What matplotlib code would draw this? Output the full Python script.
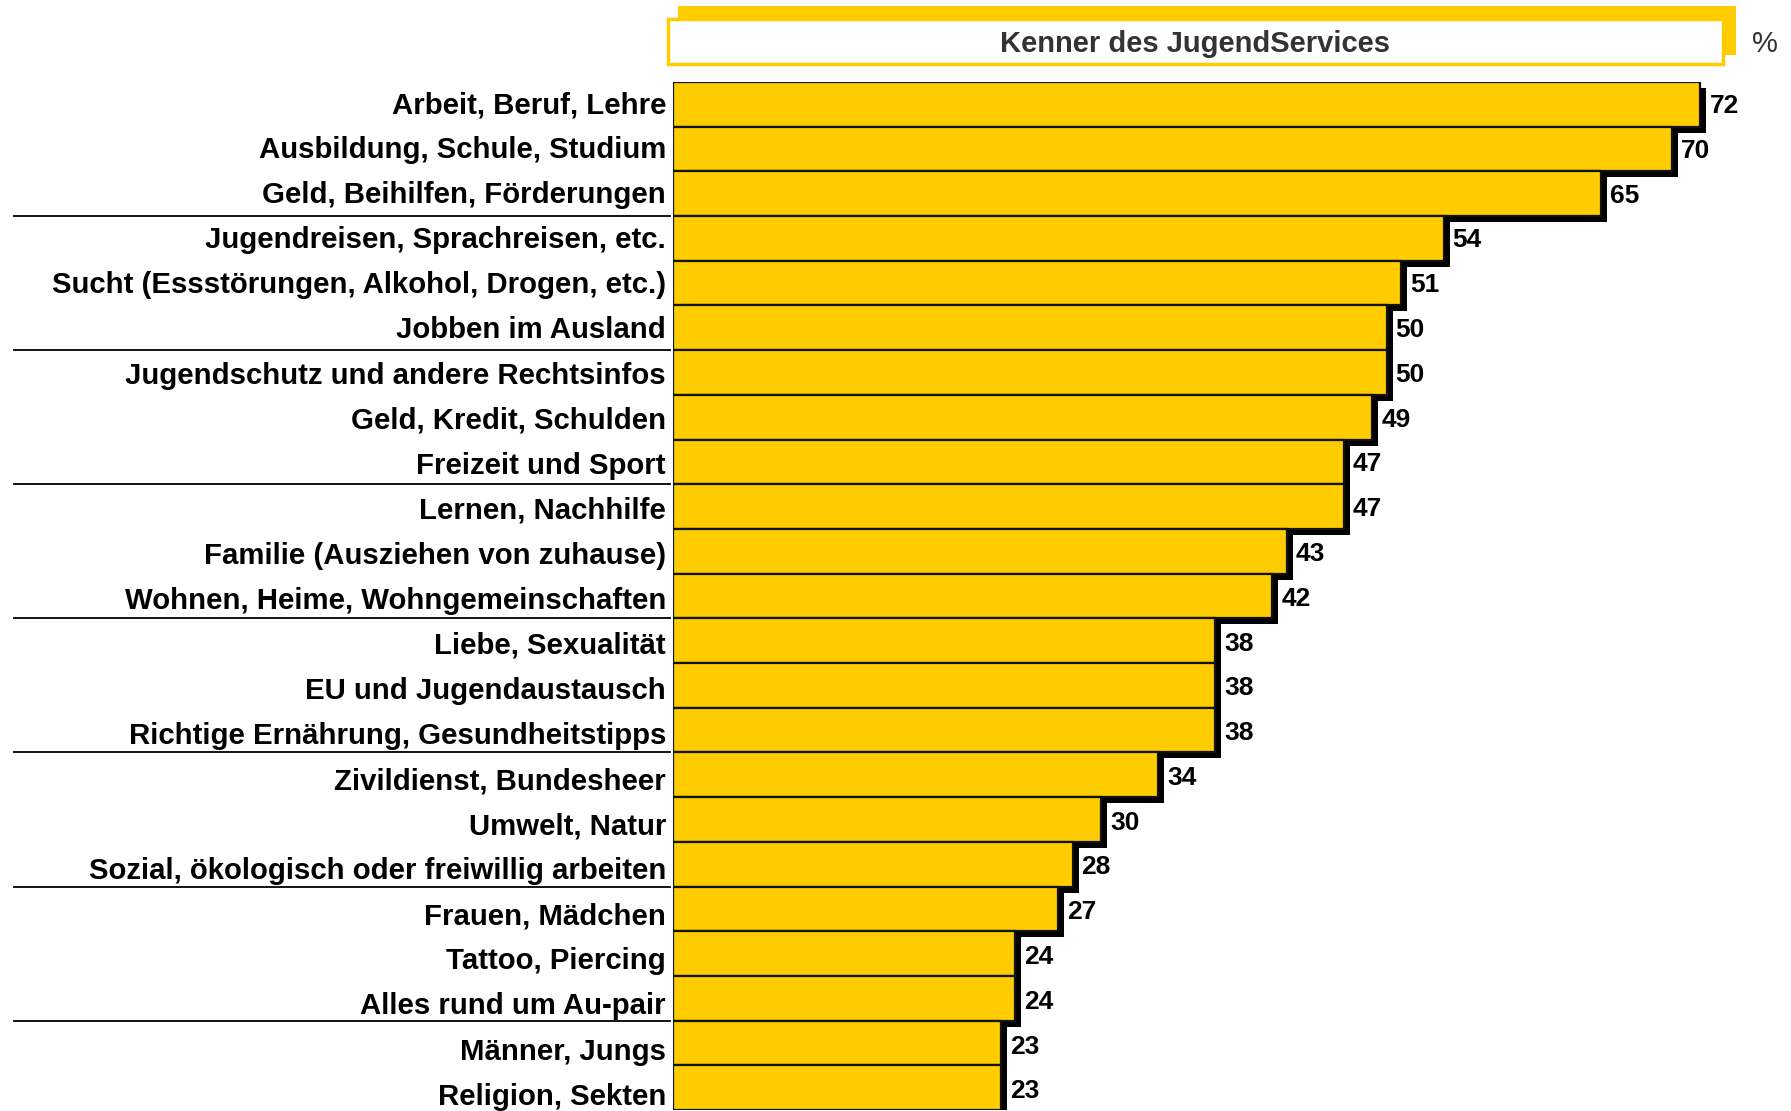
import matplotlib.pyplot as plt
from matplotlib.patches import Rectangle
from matplotlib.transforms import blended_transform_factory

plt.rcParams['font.family'] = ['Liberation Sans', 'DejaVu Sans']

topics = [
    "Arbeit, Beruf, Lehre",
    "Ausbildung, Schule, Studium",
    "Geld, Beihilfen, Förderungen",
    "Jugendreisen, Sprachreisen, etc.",
    "Sucht (Essstörungen, Alkohol, Drogen, etc.)",
    "Jobben im Ausland",
    "Jugendschutz und andere Rechtsinfos",
    "Geld, Kredit, Schulden",
    "Freizeit und Sport",
    "Lernen, Nachhilfe",
    "Familie (Ausziehen von zuhause)",
    "Wohnen, Heime, Wohngemeinschaften",
    "Liebe, Sexualität",
    "EU und Jugendaustausch",
    "Richtige Ernährung, Gesundheitstipps",
    "Zivildienst, Bundesheer",
    "Umwelt, Natur",
    "Sozial, ökologisch oder freiwillig arbeiten",
    "Frauen, Mädchen",
    "Tattoo, Piercing",
    "Alles rund um Au-pair",
    "Männer, Jungs",
    "Religion, Sekten",
]
percent = [72, 70, 65, 54, 51, 50, 50, 49, 47, 47, 43, 42,
           38, 38, 38, 34, 30, 28, 27, 24, 24, 23, 23]
header = "Kenner des JugendServices"
unit = "%"
group_size = 3

W, H = 1791, 1111
YELLOW = '#FFCC00'

fig = plt.figure(figsize=(W / 100, H / 100), dpi=100)
# axes placed in pixel terms: bars start at x=673, rows run from y=82 to the bottom
ax = fig.add_axes([673 / W, 1 / H, (W - 673) / W, (1110 - 82) / H])

n = len(topics)
rows = list(range(n))
px_per_unit = 14.27
row_px = (1110 - 82) / n
dx = 6 / px_per_unit
dy = 6 / row_px

# drop shadows first, then the bars on top
ax.barh([r + dy for r in rows], percent, left=dx, height=1.0,
        color='black', zorder=1)
ax.barh(rows, percent, height=1.0, color=YELLOW,
        edgecolor='#111111', linewidth=1.6, zorder=2)

for r, v in zip(rows, percent):
    ax.text(v + 0.63, r + 0.04 + 0.002 * r, str(v), ha='left', va='center',
            fontsize=19, fontweight='bold', color='black', zorder=3)

ax.set_xlim(0, (W - 673) / px_per_unit)
ax.set_ylim(n - 0.5, -0.5)
ax.set_xticks([])
ax.set_yticks([])
for s in ax.spines.values():
    s.set_visible(False)

# topic names sit in the margin left of the bars, spaced a touch wider than the rows
trans = blended_transform_factory(fig.transFigure, ax.transData)
for r, name in zip(rows, topics):
    ax.text(666 / W, r - 0.05 + 0.0083 * r, name, transform=trans,
            ha='right', va='center_baseline', fontsize=21.2,
            fontweight='bold', color='black', clip_on=False)

# thin rules between every group of three topics
for k in range(group_size, n, group_size):
    ax.plot([14 / W, 670 / W], [k - 0.5, k - 0.5], color='black',
            linewidth=1.3, transform=trans, clip_on=False, zorder=3)

# header box with offset yellow backing
fig.patches.append(Rectangle((678 / W, (H - 55) / H), (1736 - 678) / W, 49 / H,
                             transform=fig.transFigure, facecolor=YELLOW,
                             edgecolor='none'))
fig.patches.append(Rectangle((668 / W, (H - 64) / H), (1723 - 668) / W, 45 / H,
                             transform=fig.transFigure, facecolor='white',
                             edgecolor=YELLOW, linewidth=2.5))
fig.text((668 + 1723) / 2 / W, (H - 44.5) / H, header, ha='center', va='center',
         fontsize=21, fontweight='bold', color='#333333')
fig.text(1765 / W, (H - 44.5) / H, unit, ha='center', va='center',
         fontsize=21, color='#333333')

fig.savefig('out.png', dpi=100)
